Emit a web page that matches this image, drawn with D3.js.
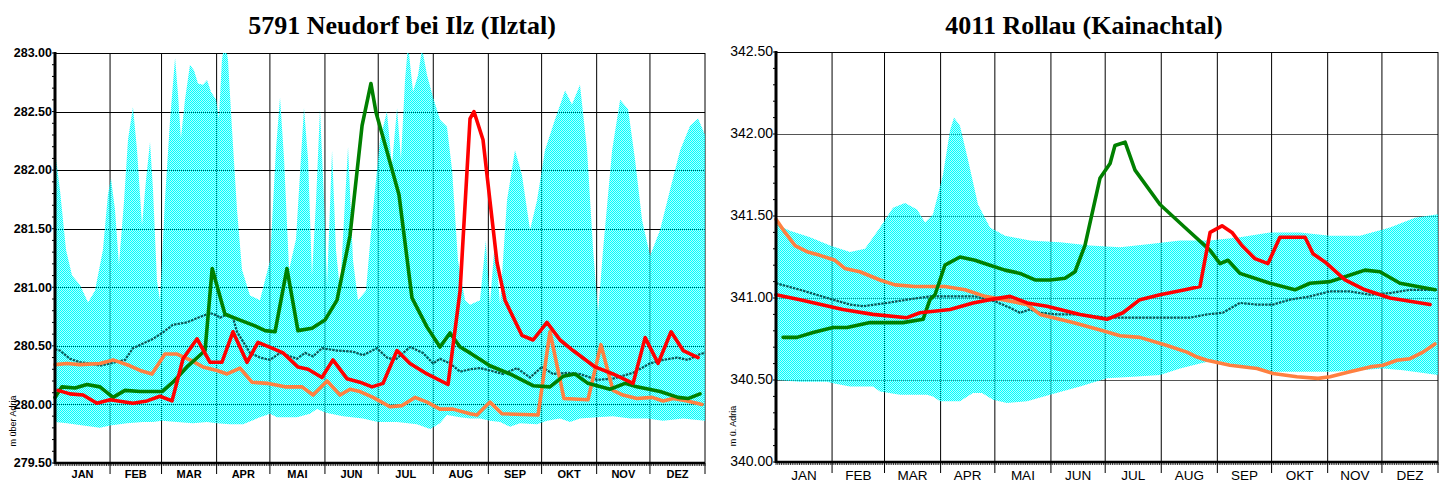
<!DOCTYPE html>
<html><head><meta charset="utf-8">
<script src="https://cdn.jsdelivr.net/npm/d3@7"></script>
<style>html,body{margin:0;padding:0;background:#fff;} svg{display:block;}</style>
</head><body>
<svg id="chart" width="1448" height="484"></svg>
<script>
// Month axis (leap year, 366 days)
const months = ["JAN","FEB","MAR","APR","MAI","JUN","JUL","AUG","SEP","OKT","NOV","DEZ"];
const monthDays = [31,29,31,30,31,30,31,31,30,31,30,31];

// Gauge 5791 Neudorf bei Ilz: water level [day of year, m über Adria]
const neudorfTicks = [279.5,280,280.5,281,281.5,282,282.5,283];
const neudorfUpper = [[0,282.17],[2.8,281.83],[6.2,281.32],[9.6,281.10],[14.1,281.02],[18.6,280.87],[22.5,280.97],[27.0,281.32],[29.8,281.79],[31.5,281.93],[33.8,281.66],[36.0,281.19],[38.9,281.74],[41.1,282.26],[43.9,282.54],[46.2,282.17],[49.0,281.53],[51.2,281.91],[53.5,282.24],[55.2,281.83],[57.4,281.06],[59.1,280.89],[61.9,281.74],[64.8,282.43],[67.6,282.96],[69.3,282.64],[70.9,282.27],[73.2,282.60],[76.0,282.90],[78.3,282.85],[80.5,282.74],[83.3,282.73],[85.6,282.77],[87.8,282.67],[90.7,282.60],[92.3,282.44],[94.0,282.94],[95.7,283.11],[97.4,282.94],[99.7,282.34],[102.5,281.66],[105.3,281.15],[109.8,280.93],[115.4,280.89],[121.1,281.23],[124.4,282.17],[126.7,282.62],[129.0,282.09],[131.8,281.15],[135.7,281.41],[140.2,282.53],[142.5,282.09],[144.7,281.10],[147.0,281.74],[149.2,282.52],[151.5,281.74],[153.2,281.02],[156.0,282.17],[158.2,281.32],[160.5,280.97],[165.0,282.20],[167.8,281.23],[170.6,280.89],[175.1,280.97],[178.5,281.57],[183.0,282.26],[186.9,282.50],[189.7,282.04],[192.6,282.53],[194.8,282.09],[197.1,282.77],[198.8,283.07],[201.6,282.67],[204.4,282.81],[206.7,283.04],[209.5,282.81],[212.9,282.62],[216.8,282.43],[220.7,282.37],[223.6,282.00],[226.9,281.23],[230.9,280.89],[233.7,280.85],[239.3,280.89],[242.6,281.40],[244.9,280.85],[247.7,281.40],[250.6,280.85],[254.5,281.74],[259.0,282.17],[262.9,281.96],[267.5,281.49],[271.4,281.74],[275.9,282.17],[281.5,282.43],[287.2,282.68],[291.1,282.56],[295.6,282.73],[299.6,282.17],[303.0,281.32],[305.8,280.78],[308.6,281.32],[313.7,282.17],[318.2,282.60],[322.7,282.52],[326.6,282.09],[330.6,281.57],[335.1,281.27],[340.7,281.49],[346.3,281.83],[352.0,282.17],[357.6,282.38],[362.1,282.44],[366,282.30]];
const neudorfLower = [[0,279.85],[6.8,279.84],[15.8,279.82],[25.3,279.80],[31.0,279.82],[40.5,279.84],[49.6,279.85],[55.2,279.85],[60.3,279.86],[68.7,279.85],[77.7,279.84],[85.6,279.85],[91.2,279.84],[98.5,279.83],[105.9,279.83],[115.4,279.89],[121.1,279.92],[125.0,279.89],[136.3,279.89],[143.6,279.92],[147.5,279.96],[152.6,279.93],[162.2,279.90],[173.4,279.88],[181.9,279.85],[192.6,279.85],[203.8,279.83],[211.2,279.79],[216.8,279.84],[220.7,279.91],[228.1,279.89],[233.7,279.88],[239.3,279.88],[244.9,279.86],[250.6,279.85],[256.2,279.81],[261.8,279.84],[271.4,279.83],[277.0,279.86],[284.4,279.88],[290.0,279.85],[295.6,279.88],[305.2,279.89],[314.2,279.90],[323.8,279.88],[333.4,279.88],[342.4,279.86],[353.7,279.88],[366,279.86]];
const neudorfMean = [[0,280.47],[2.8,280.46],[8.4,280.39],[14.1,280.36],[19.7,280.35],[25.3,280.33],[31.0,280.35],[39.4,280.38],[43.9,280.48],[49.6,280.52],[55.2,280.56],[60.3,280.61],[66.4,280.68],[74.3,280.70],[80.5,280.74],[87.3,280.78],[91.2,280.76],[92.9,280.74],[96.9,280.77],[100.2,280.74],[102.5,280.62],[109.8,280.44],[115.4,280.40],[121.1,280.38],[126.7,280.44],[136.3,280.39],[140.8,280.44],[145.3,280.41],[150.3,280.48],[158.8,280.46],[167.8,280.45],[173.4,280.42],[181.3,280.48],[186.9,280.40],[191.5,280.38],[199.9,280.49],[207.2,280.44],[212.9,280.35],[216.8,280.39],[222.4,280.35],[228.1,280.28],[233.7,280.30],[239.3,280.31],[244.9,280.29],[252.3,280.26],[260.1,280.31],[267.5,280.23],[274.2,280.32],[280.4,280.26],[288.3,280.27],[295.6,280.26],[305.2,280.21],[314.2,280.22],[325.5,280.27],[335.0,280.35],[342.4,280.38],[350.2,280.40],[356.4,280.38],[363.2,280.43],[366,280.44]];
const neudorfOrange = [[0,280.34],[6.8,280.35],[14.1,280.34],[25.3,280.35],[32.7,280.38],[42.2,280.33],[47.9,280.29],[54.6,280.26],[61.9,280.43],[68.7,280.43],[76.0,280.38],[83.3,280.32],[91.2,280.29],[96.9,280.26],[104.2,280.31],[110.9,280.19],[119.4,280.18],[129.5,280.15],[139.1,280.15],[145.3,280.08],[153.2,280.20],[160.5,280.08],[166.1,280.13],[171.7,280.11],[179.1,280.06],[188.6,279.98],[195.4,279.99],[202.7,280.06],[209.5,280.02],[216.8,279.96],[224.1,279.96],[233.7,279.92],[237.6,279.91],[244.9,280.02],[251.7,279.92],[272.0,279.91],[278.7,280.62],[286.6,280.05],[300.1,280.04],[307.4,280.51],[314.2,280.12],[319.8,280.08],[327.7,280.05],[336.2,280.06],[342.4,280.03],[348.1,280.05],[356.0,280.03],[364.3,280.00]];
const neudorfGreen = [[0,280.06],[3.9,280.15],[11.3,280.14],[18.0,280.17],[25.3,280.15],[32.7,280.06],[39.4,280.12],[47.9,280.11],[60.3,280.11],[66.4,280.19],[74.3,280.32],[81.6,280.42],[84.5,280.46],[88.5,281.16],[95.7,280.77],[104.2,280.72],[112.6,280.67],[118.3,280.63],[123.9,280.62],[130.6,281.16],[136.8,280.63],[144.7,280.65],[152.0,280.72],[158.8,280.89],[166.1,281.44],[172.9,282.38],[177.9,282.74],[180.8,282.49],[186.4,282.19],[193.7,281.79],[201.0,280.91],[209.5,280.66],[216.8,280.49],[222.4,280.61],[228.1,280.49],[233.7,280.44],[244.9,280.33],[256.2,280.26],[269.2,280.16],[278.7,280.15],[286.1,280.24],[292.8,280.26],[300.1,280.18],[312.5,280.13],[321.0,280.18],[327.7,280.15],[340.7,280.11],[350.8,280.06],[356.4,280.05],[363.2,280.09]];
const neudorfRed = [[1.7,280.12],[8.4,280.09],[15.8,280.08],[23.6,280.01],[31.0,280.04],[43.9,280.01],[51.8,280.03],[59.1,280.07],[65.9,280.03],[72.1,280.39],[80.0,280.56],[87.3,280.36],[94.0,280.36],[100.2,280.62],[108.1,280.36],[114.3,280.53],[122.2,280.48],[128.4,280.44],[136.8,280.32],[142.5,280.30],[150.3,280.23],[156.5,280.38],[164.4,280.22],[171.7,280.19],[178.5,280.15],[184.7,280.18],[192.6,280.46],[199.9,280.35],[209.5,280.26],[221.3,280.17],[228.1,280.97],[233.7,282.44],[235.9,282.50],[241.0,282.26],[244.9,281.74],[248.9,281.21],[253.4,280.89],[256.2,280.80],[262.9,280.59],[269.2,280.55],[277.0,280.70],[284.4,280.55],[291.7,280.46],[304.1,280.32],[314.2,280.26],[325.5,280.18],[332.3,280.57],[339.6,280.35],[346.9,280.62],[353.7,280.46],[362.1,280.40]];

// Gauge 4011 Rollau: water level [day of year, m ü. Adria]
const rollauTicks = [340,340.5,341,341.5,342,342.5];
const rollauUpper = [[0,341.45],[7.7,341.41],[18.8,341.37],[29.9,341.32],[40.9,341.28],[49.2,341.30],[57.5,341.43],[64.7,341.55],[71.3,341.58],[78.0,341.54],[82.4,341.46],[86.8,341.51],[92.3,341.75],[96.2,342.02],[98.4,342.10],[101.7,342.05],[106.2,341.84],[111.7,341.57],[118.3,341.43],[126.6,341.38],[140.4,341.35],[157.0,341.34],[173.6,341.32],[190.2,341.31],[206.8,341.33],[223.4,341.35],[240.0,341.35],[256.5,341.37],[273.1,341.40],[289.7,341.40],[306.3,341.38],[322.9,341.38],[339.5,341.43],[353.3,341.49],[366,341.51]];
const rollauLower = [[0,340.50],[13.3,340.49],[28.2,340.49],[31.5,340.48],[40.9,340.46],[53.6,340.46],[57.5,340.43],[68.6,340.41],[83.5,340.41],[86.8,340.40],[90.7,340.37],[101.7,340.37],[108.9,340.42],[113.9,340.42],[120.0,340.38],[127.7,340.36],[138.8,340.37],[151.5,340.41],[168.1,340.46],[183.0,340.51],[197.4,340.52],[212.3,340.53],[223.4,340.57],[234.4,340.60],[242.7,340.62],[251.0,340.60],[262.1,340.57],[274.8,340.55],[289.7,340.55],[306.3,340.55],[322.9,340.56],[335.6,340.57],[346.7,340.56],[366,340.53]];
const rollauMean = [[0,341.09],[13.3,341.05],[31.5,340.99],[40.9,340.96],[48.1,340.95],[61.4,340.97],[72.4,340.99],[85.1,341.01],[99.0,341.01],[110.0,341.01],[121.1,340.98],[129.4,340.94],[134.9,340.91],[140.4,340.93],[146.0,340.91],[155.4,340.90],[168.1,340.90],[183.0,340.88],[194.1,340.88],[210.6,340.88],[228.9,340.88],[238.3,340.90],[247.1,340.91],[256.5,340.97],[265.9,340.96],[274.8,340.96],[284.2,340.99],[295.2,341.01],[306.3,341.04],[317.3,341.04],[328.4,341.02],[339.5,341.03],[350.5,341.05],[366,341.05]];
const rollauOrange = [[0,341.48],[5.0,341.40],[10.5,341.32],[17.7,341.28],[24.3,341.26],[32.6,341.23],[38.1,341.18],[46.4,341.16],[57.5,341.11],[65.8,341.08],[76.8,341.07],[93.4,341.07],[104.5,341.05],[115.6,341.01],[125.5,340.99],[138.8,340.96],[146.0,340.90],[164.2,340.85],[180.8,340.80],[190.2,340.77],[201.2,340.76],[216.2,340.71],[227.2,340.67],[232.8,340.64],[238.3,340.62],[251.0,340.59],[265.9,340.57],[274.8,340.54],[288.0,340.52],[299.7,340.51],[306.3,340.52],[317.3,340.55],[328.4,340.58],[335.6,340.59],[343.3,340.62],[350.5,340.63],[357.7,340.67],[364.3,340.72]];
const rollauGreen = [[3.9,340.76],[11.6,340.76],[20.5,340.79],[31.5,340.82],[39.3,340.82],[52.0,340.85],[61.4,340.85],[70.2,340.85],[81.3,340.87],[85.1,340.99],[87.9,341.02],[93.4,341.20],[101.7,341.25],[110.0,341.23],[118.3,341.20],[126.6,341.17],[134.9,341.15],[143.2,341.11],[151.5,341.11],[159.8,341.12],[165.3,341.16],[170.8,341.32],[179.1,341.73],[184.7,341.82],[187.4,341.93],[193.0,341.95],[198.5,341.78],[212.3,341.57],[226.1,341.43],[240.0,341.29],[245.5,341.21],[249.9,341.23],[256.5,341.15],[273.1,341.09],[286.9,341.05],[295.2,341.09],[306.3,341.10],[314.6,341.13],[325.6,341.17],[333.9,341.16],[345.0,341.09],[364.3,341.05]];
const rollauRed = [[0,341.02],[13.3,340.99],[37.0,340.93],[53.6,340.90],[72.4,340.88],[79.6,340.91],[96.2,340.93],[108.9,340.97],[118.3,340.99],[129.4,341.01],[138.8,340.97],[149.8,340.95],[168.1,340.90],[183.0,340.87],[191.8,340.91],[201.2,340.99],[212.3,341.02],[226.1,341.05],[234.4,341.07],[240.0,341.40],[246.6,341.44],[252.1,341.40],[257.6,341.32],[264.8,341.24],[272.0,341.21],[278.6,341.37],[284.2,341.37],[292.5,341.37],[296.9,341.27],[303.5,341.22],[314.6,341.11],[325.6,341.05],[339.5,341.00],[350.5,340.98],[361.6,340.96]];

const svg = d3.select("#chart");
const defs = svg.append("defs");

// dithered cyan fill for the min/max envelope
const pat = defs.append("pattern").attr("id", "dither")
  .attr("width", 2).attr("height", 2).attr("patternUnits", "userSpaceOnUse");
pat.append("rect").attr("width", 2).attr("height", 2).attr("fill", "rgba(0,255,255,0.3)");
pat.append("rect").attr("x", 0).attr("y", 0).attr("width", 1).attr("height", 1).attr("fill", "#00ffff");
pat.append("rect").attr("x", 1).attr("y", 1).attr("width", 1).attr("height", 1).attr("fill", "#00ffff");

const SANS = "'Liberation Sans', Arial, Helvetica, sans-serif";
const SERIF = "'Liberation Serif', 'Times New Roman', serif";

const panels = [
  {
    id: "neudorf", title: "5791 Neudorf bei Ilz (Ilztal)", titleX: 402,
    x0: 55, x1: 705, y0: 53, y1: 463, domain: [279.5, 283], ticks: neudorfTicks,
    tickFont: "bold 12.5px", monthFont: "bold 11px", monthY: 478,
    yTitle: "m über Adria", yTitleX: 16, yTitleY: 421, gridColor: "#000",
    upper: neudorfUpper, lower: neudorfLower, mean: neudorfMean,
    lines: [[neudorfOrange, "#ff8040"], [neudorfGreen, "#008000"], [neudorfRed, "#ff0000"]]
  },
  {
    id: "rollau", title: "4011 Rollau (Kainachtal)", titleX: 1084,
    x0: 776, x1: 1438, y0: 52, y1: 462, domain: [340, 342.5], ticks: rollauTicks,
    tickFont: "14px", monthFont: "13.5px", monthY: 480,
    yTitle: "m ü. Adria", yTitleX: 736, yTitleY: 426, gridColor: "#555",
    upper: rollauUpper, lower: rollauLower, mean: rollauMean,
    lines: [[rollauOrange, "#ff8040"], [rollauGreen, "#008000"], [rollauRed, "#ff0000"]]
  }
];

const fmt = d3.format(".2f");
const monthStarts = d3.cumsum([0].concat(monthDays)); // 0,31,60,...,366

panels.forEach(p => {
  const x = d3.scaleLinear().domain([0, 366]).range([p.x0, p.x1]);
  const y = d3.scaleLinear().domain(p.domain).range([p.y1, p.y0]);
  const g = svg.append("g").attr("id", p.id);

  defs.append("clipPath").attr("id", "clip-" + p.id)
    .append("rect").attr("x", p.x0).attr("y", p.y0)
    .attr("width", p.x1 - p.x0).attr("height", p.y1 - p.y0);

  // title
  g.append("text").attr("x", p.titleX).attr("y", 34)
    .attr("text-anchor", "middle")
    .style("font", "bold 26px " + SERIF).text(p.title);

  // horizontal grid
  g.selectAll("line.hgrid").data(p.ticks.slice(1)).join("line")
    .attr("x1", p.x0).attr("x2", p.x1)
    .attr("y1", d => Math.round(y(d)) + 0.5).attr("y2", d => Math.round(y(d)) + 0.5)
    .attr("stroke", (d, i) => i === p.ticks.length - 2 ? "#000" : p.gridColor).attr("stroke-width", 1);

  // month boundaries, extended below the axis
  g.selectAll("line.vgrid").data(monthStarts.slice(1)).join("line")
    .attr("x1", d => x(d)).attr("x2", d => x(d))
    .attr("y1", p.y0).attr("y2", p.y1 + 11)
    .attr("stroke", "#000").attr("stroke-width", 1);

  const line = d3.line().x(d => x(d[0])).y(d => y(d[1]));

  // min/max envelope
  const poly = p.upper.concat(p.lower.slice().reverse());
  g.append("path").attr("d", line(poly) + "Z")
    .attr("clip-path", "url(#clip-" + p.id + ")")
    .attr("fill", "url(#dither)").attr("stroke", "none");

  // long-term mean, dotted dark teal
  g.append("path").attr("d", line(p.mean))
    .attr("fill", "none").attr("stroke", "#0a5a5a").attr("stroke-width", 2.2)
    .attr("stroke-dasharray", "2.5,1");

  // yearly series
  p.lines.forEach(([data, color]) => {
    g.append("path").attr("d", line(data))
      .attr("fill", "none").attr("stroke", color)
      .attr("stroke-width", 3.6).attr("stroke-linejoin", "round").attr("stroke-linecap", "round");
  });

  // y axis: minor ticks every 0.1, labels every 0.5
  const minor = d3.range(p.domain[0], p.domain[1] + 0.001, 0.1);
  g.selectAll("line.ytick").data(minor).join("line")
    .attr("x1", p.x0 - 3).attr("x2", p.x0)
    .attr("y1", d => y(d)).attr("y2", d => y(d))
    .attr("stroke", "#000").attr("stroke-width", 1);
  g.append("line").attr("x1", p.x0).attr("x2", p.x0).attr("y1", p.y0 - 1).attr("y2", p.y1 + 1)
    .attr("stroke", "#000").attr("stroke-width", 3);
  g.selectAll("text.ylab").data(p.ticks).join("text")
    .attr("x", p.x0 - 3).attr("y", d => y(d) + 4.3)
    .attr("text-anchor", "end").style("font", p.tickFont + " " + SANS)
    .text(d => fmt(d));

  // x axis: day ticks and month names
  g.selectAll("line.xtick").data(d3.range(0, 367)).join("line")
    .attr("x1", d => x(d)).attr("x2", d => x(d))
    .attr("y1", p.y1).attr("y2", p.y1 + 3)
    .attr("stroke", "#000").attr("stroke-width", 0.8);
  g.append("line").attr("x1", p.x0).attr("x2", p.x1).attr("y1", p.y1).attr("y2", p.y1)
    .attr("stroke", "#000").attr("stroke-width", 2.5);
  g.selectAll("text.mlab").data(months).join("text")
    .attr("x", (d, i) => x((monthStarts[i] + monthStarts[i + 1]) / 2))
    .attr("y", p.monthY).attr("text-anchor", "middle")
    .style("font", p.monthFont + " " + SANS).text(d => d);

  // y axis title
  g.append("text")
    .attr("transform", `translate(${p.yTitleX},${p.yTitleY}) rotate(-90)`)
    .attr("text-anchor", "middle").style("font", "9px " + SANS)
    .text(p.yTitle);
});
</script>
</body></html>
